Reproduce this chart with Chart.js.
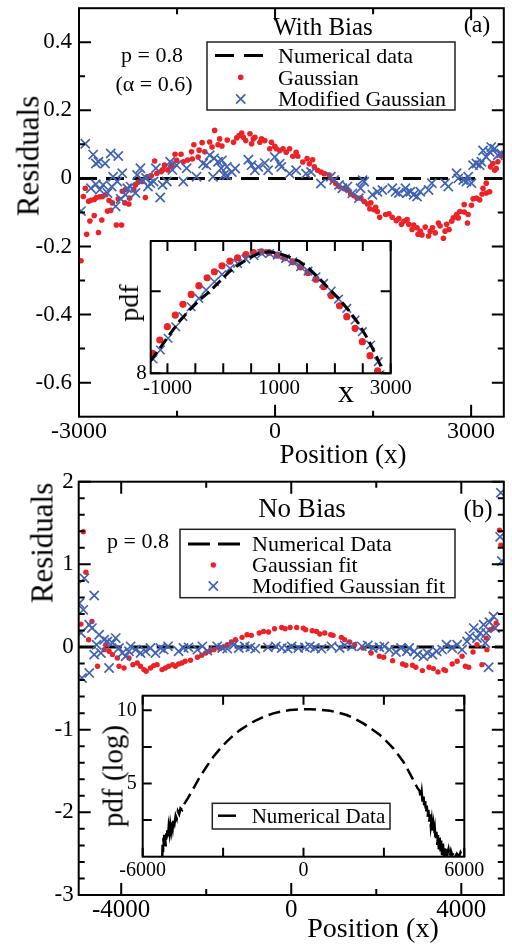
<!DOCTYPE html>
<html>
<head>
<meta charset="utf-8">
<script src="https://cdn.jsdelivr.net/npm/chart.js@4/dist/chart.umd.min.js"></script>
<style>
  html, body { margin: 0; padding: 0; background: #fff; }
  #page { position: relative; width: 512px; height: 945px; overflow: hidden;
    font-family: 'Liberation Serif', 'Times New Roman', serif; color: #000; }
  canvas { position: absolute; }
  .t { position: absolute; white-space: nowrap; line-height: 1; }
</style>
</head>
<body>
<div id="page">
  <canvas id="mainA" width="512" height="465" style="left:0px;top:0px"></canvas>
  <canvas id="insetA" width="330" height="180" style="left:100px;top:225px"></canvas>
  <canvas id="mainB" width="512" height="480" style="left:0px;top:465px"></canvas>
  <canvas id="insetB" width="420" height="210" style="left:90px;top:680px"></canvas>
</div>
<script>
// ---- panel (a): with bias, residuals ----
const aGaussX = [-2969,-2934,-2904,-2883,-2853,-2833,-2818,-2767,-2767,-2732,-2702,-2681,-2651,-2641,-2590,-2565,-2540,-2515,-2490,-2429,-2399,-2348,-2338,-2298,-2288,-2237,-2227,-2161,-2136,-2096,-2035,-1985,-1959,-1894,-1843,-1808,-1742,-1722,-1692,-1641,-1581,-1530,-1505,-1439,-1404,-1338,-1278,-1267,-1242,-1177,-1161,-1116,-1076,-1000,-964,-924,-873,-848,-813,-732,-636,-586,-550,-510,-485,-449,-384,-359,-333,-308,-232,-207,-157,-81,-56,-5,20,70,121,171,222,272,323,348,424,490,525,575,601,651,702,752,828,878,929,980,1055,1106,1157,1207,1257,1313,1364,1414,1450,1465,1515,1540,1566,1601,1692,1743,1793,1854,1894,1934,1970,2020,2046,2096,2121,2172,2187,2222,2248,2298,2349,2374,2409,2450,2500,2525,2576,2601,2626,2662,2702,2727,2778,2803,2828,2894,2894,2944,2954,3005,3030,3081,3131,3167,3182,3232,3232,3283,3298,3333,3359,3384,3409,3460];
const aGaussY = [-0.242,-0.053,-0.029,-0.164,-0.067,-0.125,-0.064,-0.062,-0.109,-0.056,-0.159,-0.054,-0.122,-0.053,-0.048,-0.096,-0.065,-0.094,-0.072,-0.137,-0.060,-0.137,-0.038,-0.072,-0.033,-0.075,-0.058,-0.033,-0.019,-0.011,-0.009,-0.056,0.005,0.008,0.051,0.015,0.020,0.025,0.039,0.025,0.039,0.071,0.053,0.071,0.049,0.054,0.078,0.057,0.099,0.063,0.083,0.105,0.078,0.107,0.092,0.141,0.099,0.116,0.095,0.113,0.106,0.119,0.126,0.133,0.121,0.111,0.131,0.102,0.116,0.121,0.106,0.116,0.111,0.087,0.106,0.094,0.087,0.082,0.087,0.077,0.087,0.065,0.077,0.065,0.048,0.058,0.043,0.055,0.034,0.024,0.019,0.014,0.010,-0.005,-0.015,-0.024,-0.029,-0.034,-0.046,-0.051,-0.058,-0.058,-0.068,-0.075,-0.089,-0.072,-0.092,-0.085,-0.097,-0.114,-0.106,-0.104,-0.114,-0.124,-0.118,-0.135,-0.126,-0.121,-0.135,-0.150,-0.137,-0.145,-0.164,-0.155,-0.166,-0.143,-0.169,-0.155,-0.145,-0.160,-0.131,-0.140,-0.176,-0.155,-0.135,-0.150,-0.126,-0.116,-0.106,-0.116,-0.097,-0.099,-0.077,-0.131,-0.106,-0.079,-0.060,-0.058,-0.063,-0.046,-0.029,-0.043,-0.014,-0.039,0.034,0.044,0.024,0.029,0.049,0.068];
const aModX = [-2969,-2904,-2818,-2783,-2742,-2742,-2702,-2681,-2631,-2601,-2565,-2515,-2500,-2479,-2439,-2414,-2399,-2363,-2338,-2288,-2262,-2212,-2136,-2111,-2060,-2035,-1975,-1944,-1909,-1858,-1823,-1757,-1722,-1656,-1606,-1571,-1505,-1404,-1353,-1202,-1101,-1051,-1000,-949,-934,-873,-823,-813,-783,-737,-737,-662,-611,-409,-359,-308,-258,-157,-106,-5,70,96,222,323,474,550,702,853,904,980,1030,1106,1182,1282,1308,1339,1364,1490,1566,1642,1793,1844,1894,1995,2020,2071,2121,2172,2222,2349,2399,2601,2651,2778,2803,2879,2929,2955,3005,3030,3081,3131,3157,3182,3232,3283,3308,3359,3409,3460];
const aModY = [-0.096,0.102,-0.029,0.070,0.044,-0.017,0.049,-0.033,-0.019,0.044,-0.043,0.073,-0.024,0.005,-0.082,-0.009,0.066,-0.060,0.015,-0.048,-0.029,-0.024,-0.043,0.010,0.030,-0.004,0.001,-0.024,-0.014,-0.009,0.030,-0.056,-0.019,-0.009,0.049,0.025,0.039,-0.009,0.030,0.005,0.044,0.039,0.068,0.005,0.059,0.049,0.030,0.053,0.010,0.034,0.009,0.019,0.029,0.055,0.039,0.024,0.034,0.045,0.024,0.063,0.043,0.034,0.014,0.024,0.014,0.019,-0.015,0.005,-0.005,-0.019,-0.029,-0.024,-0.044,-0.058,-0.029,-0.005,-0.010,-0.048,-0.039,-0.034,-0.029,-0.039,-0.043,-0.029,-0.043,-0.039,-0.048,-0.053,-0.039,-0.034,-0.014,-0.014,-0.024,0.015,0.000,-0.005,-0.009,0.005,-0.014,0.039,0.044,0.039,0.049,0.082,0.063,0.078,0.092,0.087,0.068,0.073];
const aNumX = [-3000, 3500];
const aNumY = [0, 0];
const aXTicks = [-3000, 0, 3000];
const aXMinor = [-1500, 1500];
const aYTicks = [-0.6, -0.4, -0.2, 0, 0.2, 0.4];
const aYMinor = [-0.5, -0.3, -0.1, 0.1, 0.3];

// ---- inset (a): pdf ----
const iaGaussX = [-1268,-1137,-1001,-859,-722,-574,-437,-289,-159,-22,120,256,405,541,683,820,968,1098,1247,1383,1519,1662,1798,1935,2083,2213,2362,2492,2629,2765];
const iaGaussY = [8.243,8.405,8.567,8.709,8.839,8.960,9.066,9.163,9.236,9.308,9.365,9.406,9.446,9.470,9.478,9.470,9.438,9.406,9.357,9.296,9.227,9.146,9.053,8.944,8.822,8.689,8.547,8.385,8.215,8.029];
const iaModX = [-1256,-1125,-989,-853,-722,-574,-437,-307,-159,-22,120,256,405,552,689,832,968,1116,1247,1383,1519,1662,1798,1935,2065,2213,2362,2492,2640,2777];
const iaModY = [8.174,8.284,8.426,8.567,8.689,8.810,8.912,9.013,9.114,9.203,9.276,9.337,9.389,9.430,9.458,9.458,9.438,9.397,9.357,9.296,9.244,9.175,9.094,9.001,8.903,8.790,8.648,8.507,8.344,8.142];
const iaNumX = [-1303,-1137,-959,-781,-604,-426,-248,-70,108,286,464,642,820,998,1176,1353,1531,1709,1887,2065,2243,2421,2599,2747,2866];
const iaNumY = [8.15,8.304,8.474,8.636,8.770,8.891,8.993,9.114,9.236,9.325,9.406,9.458,9.478,9.458,9.418,9.365,9.276,9.163,9.033,8.912,8.770,8.608,8.405,8.203,8.02];
const iaXTicks = [-1000, 1000, 3000];
const iaXMinor = [-500, 0, 500, 1500, 2000, 2500];
const iaYTicks = [8];
const iaYMinor = [9];

// ---- panel (b): no bias, residuals ----
const bGaussX = [-4946,-4892,-4830,-4767,-4689,-4557,-4401,-4362,-4285,-4207,-4090,-4051,-3934,-3818,-3724,-3623,-3545,-3467,-3413,-3312,-3234,-3156,-3039,-2962,-2884,-2790,-2728,-2650,-2572,-2495,-2370,-2207,-2106,-2013,-1919,-1818,-1702,-1624,-1507,-1406,-1312,-1157,-1040,-939,-752,-651,-534,-394,-223,-145,-28,128,283,338,493,594,672,789,929,984,1178,1256,1373,1490,1684,1879,2073,2175,2385,2618,2696,2852,2930,3085,3241,3342,3451,3591,3630,3786,3903,4019,4097,4175,4276,4369,4486,4587,4603,4680,4758,4821,4899,4930];
const bGaussY = [0.277,1.394,0.904,0.088,0.309,-0.233,-0.032,0.028,-0.052,-0.092,-0.132,-0.233,-0.253,-0.133,-0.213,-0.193,-0.233,-0.273,-0.293,-0.253,-0.225,-0.213,-0.273,-0.253,-0.233,-0.213,-0.233,-0.205,-0.193,-0.173,-0.160,-0.124,-0.100,-0.072,-0.052,-0.032,-0.012,-0.004,0.028,0.061,0.089,0.117,0.149,0.141,0.169,0.189,0.181,0.221,0.237,0.221,0.237,0.237,0.229,0.209,0.197,0.189,0.157,0.169,0.149,0.141,0.117,0.089,0.061,0.028,-0.012,-0.072,-0.112,-0.124,-0.165,-0.205,-0.221,-0.221,-0.245,-0.285,-0.245,-0.261,-0.301,-0.273,-0.285,-0.205,-0.173,-0.112,-0.233,-0.245,-0.060,0.028,-0.213,0.108,-0.032,0.209,0.229,0.289,1.414,1.233];
const bModX = [-4985,-4946,-4923,-4892,-4868,-4752,-4752,-4689,-4635,-4635,-4580,-4518,-4479,-4401,-4324,-4285,-4207,-4129,-4051,-3973,-3896,-3818,-3779,-3662,-3545,-3428,-3312,-3195,-3078,-3000,-2899,-2650,-2533,-2417,-2207,-2091,-1974,-1741,-1624,-1507,-1351,-1234,-1095,-962,-846,-550,-363,-223,-83,11,166,322,439,556,711,947,1139,1256,1427,1661,1801,1918,2073,2190,2307,2463,2579,2719,2774,2891,2969,3109,3202,3319,3420,3552,3653,3786,3903,4019,4136,4198,4292,4369,4447,4525,4564,4587,4642,4665,4758,4797,4914,4930,4953];
const bModY = [0.530,0.169,-0.374,0.450,0.831,0.269,-0.313,0.229,0.623,-0.092,0.028,0.149,-0.072,0.088,0.068,-0.253,0.048,0.108,-0.012,-0.072,-0.112,-0.052,0.008,-0.032,-0.072,-0.052,-0.012,-0.072,-0.012,-0.032,0.008,-0.052,-0.012,-0.004,-0.032,0.008,-0.044,0.008,-0.012,-0.020,0.028,-0.012,0.008,-0.004,-0.020,-0.004,0.008,-0.012,-0.020,0.008,-0.012,-0.004,0.008,-0.012,-0.020,0.008,-0.012,0.020,0.008,0.008,0.020,-0.012,-0.004,0.008,-0.032,-0.060,-0.012,-0.052,-0.012,-0.052,-0.092,-0.112,-0.072,-0.092,-0.052,-0.032,0.028,-0.012,0.028,-0.032,0.068,0.129,0.229,0.108,0.169,0.269,0.048,0.169,-0.245,0.301,0.370,0.229,1.333,1.867,1.040];
const bNumX = [-5000, 5000];
const bNumY = [0, 0];
const bXTicks = [-4000, 0, 4000];
const bXMinor = [-2000, 2000];
const bYTicks = [-3, -2, -1, 0, 1, 2];
const bYMinor = [-2.8,-2.6,-2.4,-2.2,-1.8,-1.6,-1.4,-1.2,-0.8,-0.6,-0.4,-0.2,0.2,0.4,0.6,0.8,1.2,1.4,1.6,1.8];

// ---- inset (b): pdf (log) ----
const ibPdfX = [-5270,-5255,-5240,-5225,-5210,-5195,-5180,-5160,-5140,-5120,-5100,-5080,-5055,-5030,-5000,-4970,-4940,-4910,-4880,-4850,-4810,-4770,-4730,-4690,-4640,-4590,-4530,-4483,-4330,-4172,-4020,-3861,-3610,-3364,-3110,-2866,-2620,-2369,-2060,-1747,-1440,-1125,-820,-504,-130,242,610,989,1300,1610,1920,2232,2540,2854,3100,3351,3540,3724,3910,4097,4250,4330,4380,4410,4450,4480,4510,4540,4570,4600,4630,4660,4690,4720,4750,4780,4810,4840,4870,4900,4930,4960,4990,5020,5050,5080,5110,5140,5170,5200,5230,5260,5290,5330,5370,5410,5450,5500,5550,5600,5650,5720,5800,5860,5920,5960];
const ibPdfY = [0.0,1.0,0.3,1.3,0.6,1.5,0.9,1.2,0.7,1.6,1.1,1.8,1.3,2.0,1.6,2.2,1.8,2.4,2.0,2.6,2.3,2.8,2.6,3.1,2.9,3.3,3.2,3.5,3.95,4.44,4.95,5.47,6.17,6.83,7.38,7.86,8.28,8.65,9.02,9.34,9.60,9.79,9.93,10.02,10.07,10.07,10.04,9.97,9.84,9.68,9.42,9.11,8.73,8.31,7.88,7.40,6.95,6.49,5.88,5.24,4.7,4.5,4.0,4.4,3.6,4.1,3.3,3.8,3.0,3.5,2.7,3.2,2.4,2.9,2.1,2.5,1.8,2.2,1.5,1.9,1.1,1.7,0.8,1.5,0.5,1.3,0.3,1.1,0.1,0.9,0.3,0.7,0.0,0.6,0.2,0.5,0.0,0.4,0.1,0.3,0.0,0.2,0.0,0.3,0.1,0.25];
const ibXTicks = [-6000, 0, 6000];
const ibXMinor = [-3000, 3000];
const ibYTicks = [5, 10];
const ibYMinor = [2.5, 7.5];

const RED = '#ec2227';
const BLUE = '#4262b2';

Chart.defaults.font.family = "'Liberation Serif', 'Times New Roman', serif";
Chart.defaults.color = '#000';

const pts = (xs, ys) => xs.map((x, i) => ({ x: x, y: ys[i] }));

const dots = (xs, ys, r, order) => ({
  data: pts(xs, ys), showLine: false, pointStyle: 'circle', pointRadius: r,
  pointBackgroundColor: RED, pointBorderColor: RED, pointBorderWidth: 0, order: order
});
const crosses = (xs, ys, r, w, order) => ({
  data: pts(xs, ys), showLine: false, pointStyle: 'crossRot', pointRadius: r,
  pointBackgroundColor: BLUE, pointBorderColor: BLUE, pointBorderWidth: w, order: order
});
const dashed = (xs, ys, w, dash, order) => ({
  data: pts(xs, ys), showLine: true, pointRadius: 0, borderColor: '#000',
  borderWidth: w, borderDash: dash, fill: false, tension: 0, order: order
});

// linear axis with fixed ticks, no grid; the frame plugin draws ticks inside
function axis(min, max, labels, size, pad, fitSize, horizontal) {
  return {
    type: 'linear', min: min, max: max,
    afterBuildTicks: s => { s.ticks = labels.map(v => ({ value: v })); },
    afterFit: s => {
      if (horizontal) s.height = fitSize; else s.width = fitSize;
      // labels may hang over the plot edges, keep the plot box fixed
      s.paddingTop = s.paddingBottom = s.paddingLeft = s.paddingRight = 0;
    },
    grid: { display: false, drawTicks: false },
    border: { display: false },
    ticks: { autoSkip: false, maxRotation: 0, minRotation: 0, padding: pad,
      font: { size: size }, callback: v => String(v) }
  };
}

function drawKey(ctx, key) {
  ctx.save();
  ctx.lineWidth = 1.5;
  ctx.strokeStyle = '#222';
  ctx.setLineDash([]);
  const b = key.box;
  ctx.strokeRect(b[0], b[1], b[2] - b[0], b[3] - b[1]);
  key.items.forEach(it => {
    ctx.beginPath();
    if (it.kind === 'dash') {
      ctx.strokeStyle = '#000';
      ctx.lineWidth = it.w;
      ctx.setLineDash(it.dash);
      ctx.moveTo(it.x0, it.y); ctx.lineTo(it.x1, it.y);
      ctx.stroke();
      ctx.setLineDash([]);
    } else if (it.kind === 'dot') {
      ctx.fillStyle = RED;
      ctx.arc(it.x, it.y, it.r, 0, Math.PI * 2);
      ctx.fill();
    } else {
      const d = it.r * Math.SQRT1_2;
      ctx.strokeStyle = BLUE;
      ctx.lineWidth = it.w;
      ctx.moveTo(it.x - d, it.y - d); ctx.lineTo(it.x + d, it.y + d);
      ctx.moveTo(it.x - d, it.y + d); ctx.lineTo(it.x + d, it.y - d);
      ctx.stroke();
    }
  });
  ctx.restore();
}

// frame, inward ticks on all four sides, optional key box
function frame(cfg) {
  return {
    id: 'frame',
    beforeDatasetsDraw(chart) {
      if (!cfg.fill) return;
      const a = chart.chartArea;
      chart.ctx.save();
      chart.ctx.fillStyle = '#fff';
      chart.ctx.fillRect(a.left, a.top, a.width, a.height);
      chart.ctx.restore();
    },
    afterDatasetsDraw(chart) {
      const ctx = chart.ctx, a = chart.chartArea, sc = chart.scales;
      ctx.save();
      ctx.strokeStyle = '#000';
      ctx.lineWidth = cfg.line;
      ctx.setLineDash([]);
      const mark = (scale, vals, len) => vals.forEach(v => {
        const p = scale.getPixelForValue(v);
        ctx.beginPath();
        if (scale.isHorizontal()) {
          ctx.moveTo(p, a.bottom); ctx.lineTo(p, a.bottom - len);
          ctx.moveTo(p, a.top); ctx.lineTo(p, a.top + len);
        } else {
          ctx.moveTo(a.left, p); ctx.lineTo(a.left + len, p);
          ctx.moveTo(a.right, p); ctx.lineTo(a.right - len, p);
        }
        ctx.stroke();
      });
      mark(sc.x, cfg.xMajor, cfg.major);
      mark(sc.x, cfg.xMinor, cfg.minor);
      mark(sc.y, cfg.yMajor, cfg.major);
      mark(sc.y, cfg.yMinor, cfg.minor);
      ctx.strokeRect(a.left, a.top, a.width, a.height);
      ctx.restore();
      if (cfg.key) drawKey(ctx, cfg.key);
    }
  };
}

function makeChart(id, datasets, scales, padding, frameCfg) {
  return new Chart(document.getElementById(id), {
    type: 'scatter',
    data: { datasets: datasets },
    options: {
      responsive: false, animation: false, devicePixelRatio: 1, events: [],
      layout: { padding: padding },
      plugins: { legend: { display: false }, tooltip: { enabled: false } },
      scales: scales
    },
    plugins: [frame(frameCfg)]
  });
}

// panel (a)
makeChart('mainA', [
  crosses(aModX, aModY, 6.5, 1.7, 0),
  dots(aGaussX, aGaussY, 2.8, 1),
  dashed(aNumX, aNumY, 3, [18, 9], 2)
], {
  x: axis(-3000, 3500, aXTicks, 24, 1, 48.3, true),
  y: axis(-0.7, 0.5, aYTicks, 23, 7, 79, false)
}, { top: 5, right: 5, left: 0, bottom: 0 }, {
  line: 2, major: 12, minor: 6,
  xMajor: aXTicks, xMinor: aXMinor, yMajor: aYTicks, yMinor: aYMinor,
  key: { box: [207, 42, 455, 110], items: [
    { kind: 'dash', x0: 215, x1: 264, y: 55.5, w: 3, dash: [19, 10] },
    { kind: 'dot', x: 240.7, y: 77.3, r: 2.8 },
    { kind: 'cross', x: 240.7, y: 99, r: 6.5, w: 1.7 }
  ] }
});

makeChart('insetA', [
  dashed(iaNumX, iaNumY, 3, [11, 5], 0),
  crosses(iaModX, iaModY, 6, 1.6, 1),
  dots(iaGaussX, iaGaussY, 3.6, 2)
], {
  x: axis(-1300, 3000, iaXTicks, 21, 3, 31.7, true),
  y: axis(8, 9.61, iaYTicks, 21, 4, 50.7, false)
}, { top: 16, right: 39.3, left: 0, bottom: 0 }, {
  line: 2, major: 10, minor: 10, fill: true,
  xMajor: iaXTicks, xMinor: iaXMinor, yMajor: iaYTicks, yMinor: iaYMinor
});

// panel (b)
makeChart('mainB', [
  crosses(bModX, bModY, 6.5, 1.7, 0),
  dots(bGaussX, bGaussY, 2.7, 1),
  dashed(bNumX, bNumY, 3, [17, 9], 2)
], {
  x: axis(-5000, 5000, bXTicks, 25, 0, 50, true),
  y: axis(-3, 2, bYTicks, 23, 5, 78.7, false)
}, { top: 16.7, right: 5, left: 0, bottom: 0 }, {
  line: 2, major: 12, minor: 6,
  xMajor: bXTicks, xMinor: bXMinor, yMajor: bYTicks, yMinor: bYMinor,
  key: { box: [180, 64.3, 455, 132.7], items: [
    { kind: 'dash', x0: 188, x1: 241, y: 79, w: 3, dash: [22, 8] },
    { kind: 'dot', x: 213.3, y: 100, r: 2.7 },
    { kind: 'cross', x: 213.3, y: 121, r: 6.5, w: 1.7 }
  ] }
});

makeChart('insetB', [
  dashed(ibPdfX, ibPdfY, 2.5, [12, 6], 0)
], {
  x: axis(-6000, 6000, ibXTicks, 20, 2, 33.3, true),
  y: axis(0, 11, ibYTicks, 20, 6, 52.7, false)
}, { top: 15.7, right: 45.7, left: 0, bottom: 0 }, {
  line: 2, major: 9, minor: 9, fill: true,
  xMajor: ibXTicks, xMinor: ibXMinor, yMajor: ibYTicks, yMinor: ibYMinor,
  key: { box: [122.3, 123.3, 300, 149], items: [
    { kind: 'dash', x0: 128, x1: 146, y: 135.7, w: 2.5, dash: [] }
  ] }
});

// free text: [text, x, baseline, size, align]
const page = document.getElementById('page');
const notes = [
  ['With Bias', 323, 35, 25, 'center'],
  ['(a)', 477, 32, 24, 'center'],
  ['p = 0.8', 152, 62, 22, 'center'],
  ['(\u03b1 = 0.6)', 154, 91.5, 22, 'center'],
  ['Numerical data', 278, 63, 22, 'left'],
  ['Gaussian', 278, 85, 22, 'left'],
  ['Modified Gaussian', 278, 106, 22, 'left'],
  ['Position (x)', 343, 464, 27, 'center'],
  ['x', 346, 402, 32, 'center'],
  ['No Bias', 302, 518, 27, 'center'],
  ['(b)', 478, 517, 25, 'center'],
  ['p = 0.8', 138, 548, 22, 'center'],
  ['Numerical Data', 252, 551.5, 22, 'left'],
  ['Gaussian fit', 252, 572.5, 22, 'left'],
  ['Modified Gaussian fit', 252, 593.5, 22, 'left'],
  ['Numerical Data', 251.7, 823.3, 21, 'left'],
  ['Position (x)', 373, 938, 28, 'center']
];
notes.forEach(n => {
  const el = document.createElement('div');
  el.className = 't';
  el.textContent = n[0];
  el.style.fontSize = n[3] + 'px';
  el.style.left = n[1] + 'px';
  el.style.top = (n[2] - 0.84 * n[3]) + 'px';
  if (n[4] === 'center') el.style.transform = 'translateX(-50%)';
  page.appendChild(el);
});

// rotated titles: [text, centre x, centre y, size]
const vertical = [
  ['Residuals', 27.5, 156, 31],
  ['pdf', 128.5, 303, 28],
  ['Residuals', 41.7, 542.5, 31],
  ['pdf (log)', 113.3, 775.5, 29]
];
vertical.forEach(n => {
  const el = document.createElement('div');
  el.className = 't';
  el.textContent = n[0];
  el.style.fontSize = n[3] + 'px';
  el.style.left = n[1] + 'px';
  el.style.top = n[2] + 'px';
  el.style.transform = 'translate(-50%, -50%) rotate(-90deg)';
  page.appendChild(el);
});
</script>
</body>
</html>
